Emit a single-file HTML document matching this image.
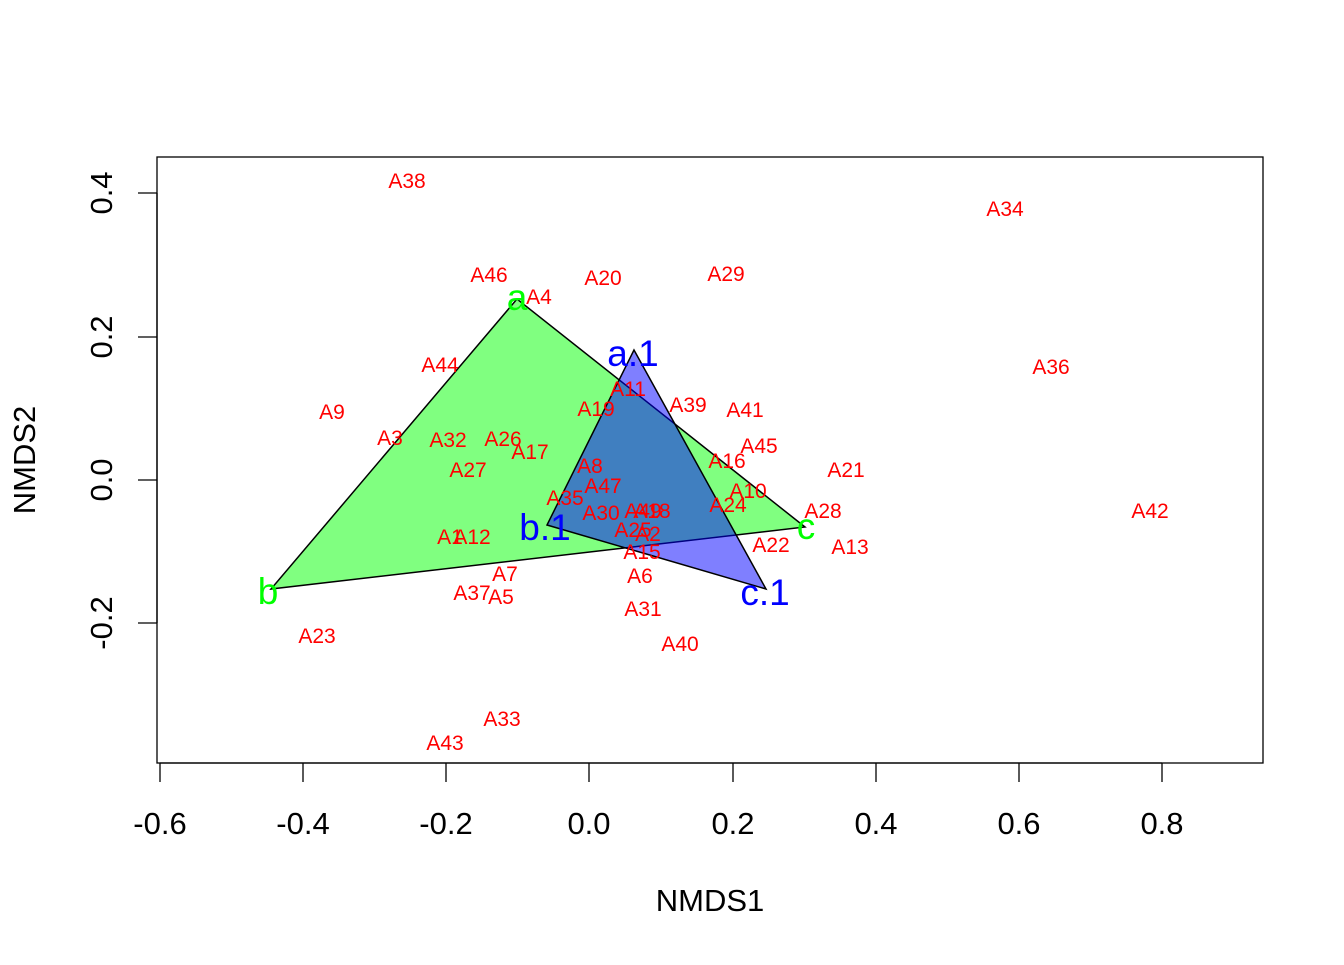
<!DOCTYPE html>
<html><head><meta charset="utf-8"><style>
html,body{margin:0;padding:0;background:#fff;}
svg text{font-family:"Liberation Sans",Arial,sans-serif;}
</style></head><body>
<svg width="1344" height="960" viewBox="0 0 1344 960" xmlns="http://www.w3.org/2000/svg">
<rect width="1344" height="960" fill="#fff"/>
<polygon points="517,299 271,589 805,527" fill="#80FF80" stroke="#000" stroke-width="1.5"/>
<polygon points="634,350 547,525 766,589" fill="rgba(0,0,255,0.5)" stroke="#000" stroke-width="1.5"/>
<rect x="157" y="157" width="1106" height="606" fill="none" stroke="#000" stroke-width="1.3"/>
<g stroke="#000" stroke-width="1.3">
<line x1="160" y1="763" x2="1162" y2="763"/>
<line x1="160" y1="763" x2="160" y2="782"/><line x1="303" y1="763" x2="303" y2="782"/><line x1="446" y1="763" x2="446" y2="782"/><line x1="589" y1="763" x2="589" y2="782"/><line x1="733" y1="763" x2="733" y2="782"/><line x1="876" y1="763" x2="876" y2="782"/><line x1="1019" y1="763" x2="1019" y2="782"/><line x1="1162" y1="763" x2="1162" y2="782"/>
<line x1="157" y1="193" x2="157" y2="623"/>
<line x1="138" y1="193" x2="157" y2="193"/><line x1="138" y1="337" x2="157" y2="337"/><line x1="138" y1="480" x2="157" y2="480"/><line x1="138" y1="623" x2="157" y2="623"/>
</g>
<g font-size="31" text-anchor="middle" fill="#000">
<text x="160" y="834">-0.6</text><text x="303" y="834">-0.4</text><text x="446" y="834">-0.2</text><text x="589" y="834">0.0</text><text x="733" y="834">0.2</text><text x="876" y="834">0.4</text><text x="1019" y="834">0.6</text><text x="1162" y="834">0.8</text>
<text transform="translate(112,193) rotate(-90)">0.4</text>
<text transform="translate(112,337) rotate(-90)">0.2</text>
<text transform="translate(112,480) rotate(-90)">0.0</text>
<text transform="translate(112,623) rotate(-90)">-0.2</text>
<text x="710" y="911">NMDS1</text>
<text transform="translate(35,460) rotate(-90)">NMDS2</text>
</g>
<g font-size="21" fill="#FF0000" text-anchor="middle">
<text x="407" y="188">A38</text><text x="1005" y="216">A34</text>
<text x="489" y="282">A46</text><text x="539" y="304">A4</text><text x="603" y="285">A20</text><text x="726" y="281">A29</text>
<text x="440" y="372">A44</text><text x="1051" y="374">A36</text>
<text x="332" y="419">A9</text><text x="628" y="396">A11</text><text x="596" y="416">A19</text><text x="688" y="412">A39</text><text x="745" y="417">A41</text>
<text x="390" y="445">A3</text><text x="448" y="447">A32</text><text x="503" y="446">A26</text><text x="530" y="459">A17</text><text x="759" y="453">A45</text>
<text x="468" y="477">A27</text><text x="590" y="473">A8</text><text x="727" y="468">A16</text><text x="846" y="477">A21</text>
<text x="603" y="493">A47</text><text x="565" y="505">A35</text><text x="748" y="498">A10</text><text x="728" y="512">A24</text>
<text x="601" y="520">A30</text><text x="643" y="518">A49</text><text x="652" y="518">A18</text><text x="823" y="518">A28</text><text x="1150" y="518">A42</text>
<text x="633" y="537">A25</text><text x="648" y="541">A2</text>
<text x="450" y="544">A1</text><text x="472" y="544">A12</text><text x="642" y="559">A15</text><text x="771" y="552">A22</text><text x="850" y="554">A13</text>
<text x="505" y="581">A7</text><text x="640" y="583">A6</text><text x="472" y="600">A37</text><text x="501" y="604">A5</text>
<text x="643" y="616">A31</text><text x="317" y="643">A23</text><text x="680" y="651">A40</text>
<text x="502" y="726">A33</text><text x="445" y="750">A43</text>
</g>
<g font-size="37" text-anchor="middle">
<text x="517" y="310" fill="#00FF00">a</text>
<text x="268" y="604" fill="#00FF00">b</text>
<text x="806" y="539" fill="#00FF00">c</text>
<text x="633" y="366" fill="#0000FF">a.1</text>
<text x="545" y="540" fill="#0000FF">b.1</text>
<text x="765" y="605" fill="#0000FF">c.1</text>
</g>
</svg>
</body></html>
